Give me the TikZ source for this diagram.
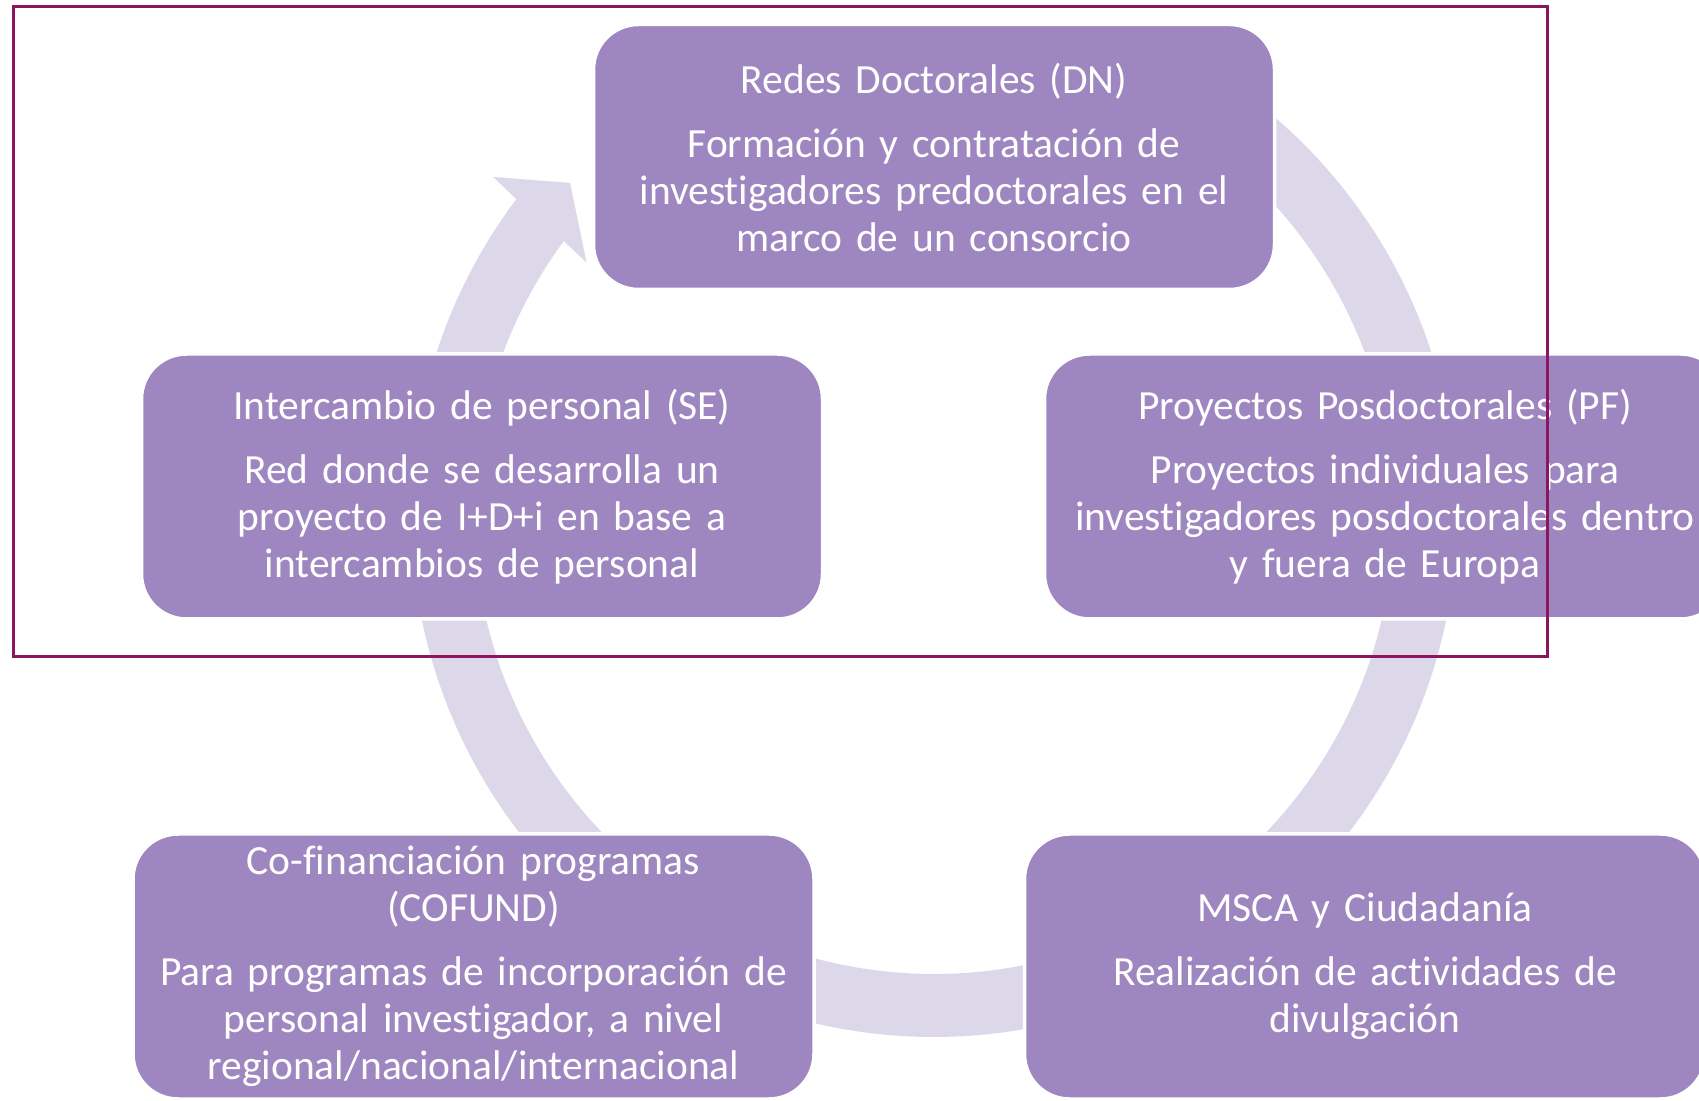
\documentclass[tikz,border=0pt]{standalone}
\usepackage{fontspec}
\setmainfont[Ligatures=NoCommon]{Carlito}
\usepackage{xcolor}
\usepackage{tikz}

\definecolor{boxpurple}{HTML}{9E86C0}
\definecolor{ringlilac}{HTML}{DCD8E9}
\definecolor{framered}{HTML}{8C1560}

\begin{document}
\begin{tikzpicture}[x=1pt, y=1pt,
    box/.style={rectangle, rounded corners=45pt, fill=boxpurple, draw=white, line width=3.5pt,
        minimum width=681pt, minimum height=265pt, inner sep=0pt, text width=670pt,
        align=center, text=white, font=\fontsize{41.5}{47}\selectfont},
    band/.style={ringlilac, line width=63pt}]
    \useasboundingbox (0, 0) rectangle (1699, 1100);
    \coordinate (hub) at (934, 586);

    \draw[band] ([shift={(60:491.5pt)}]hub) arc[start angle=60, end angle=10, radius=491.5pt];
    \draw[band] ([shift={(0:491.5pt)}]hub) arc[start angle=0, end angle=-50, radius=491.5pt];
    \draw[band] ([shift={(-60:491.5pt)}]hub) arc[start angle=-60, end angle=-120, radius=491.5pt];
    \draw[band] ([shift={(-130:491.5pt)}]hub) arc[start angle=-130, end angle=-190, radius=491.5pt];
    \fill[ringlilac] ([shift={(170:523pt)}]hub) arc[start angle=170, end angle=143, radius=523pt]
        -- ([shift={(142.6:555pt)}]hub) -- ([shift={(137.7:492pt)}]hub)
        -- ([shift={(144.1:429pt)}]hub) -- ([shift={(143.6:460pt)}]hub)
        arc[start angle=143.6, end angle=170, radius=460pt] -- cycle;

    \node[box] at (934, 943) (dn) {Redes Doctorales (DN)\\[17pt]
        Formación y contratación de\\investigadores predoctorales en el\\marco de un consorcio};
    \node[box] at (1385, 613.5) (pf) {Proyectos Posdoctorales (PF)\\[17pt]
        Proyectos individuales para\\investigadores posdoctorales dentro\\y fuera de Europa};
    \node[box] at (1365, 133.5) (msca) {MSCA y Ciudadanía\\[17pt]
        Realización de actividades de\\divulgación};
    \node[box] at (473.5, 133.5) (cofund) {Co-financiación programas\\(COFUND)\\[17pt]
        Para programas de incorporación de\\personal investigador, a nivel\\regional/nacional/internacional};
    \node[box] at (482, 613.5) (se) {Intercambio de personal (SE)\\[17pt]
        Red donde se desarrolla un\\proyecto de I+D+i en base a\\intercambios de personal};

    \draw[framered, line width=3pt] (13, 443) rectangle (1547, 1093);
\end{tikzpicture}
\end{document}
